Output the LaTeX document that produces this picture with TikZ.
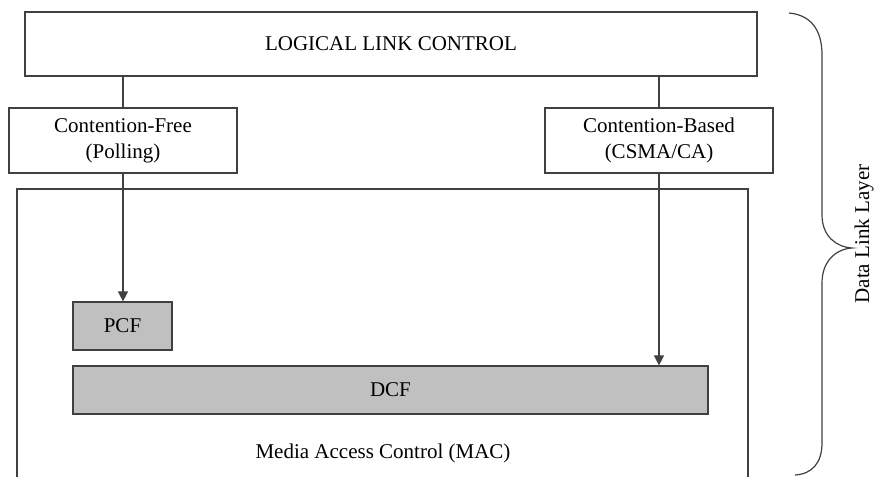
\documentclass[tikz,border=0pt]{standalone}
\usepackage{fontspec}
\setmainfont{Liberation Serif}
\usetikzlibrary{arrows.meta}
\definecolor{edge}{HTML}{404040}
\definecolor{boxfill}{HTML}{C0C0C0}
\tikzset{
  box/.style={draw=edge, line width=1.2pt, rectangle, inner sep=0pt, align=center,
    font=\fontsize{21}{26}\selectfont},
  graybox/.style={box, fill=boxfill},
  conn/.style={draw=edge, line width=1.2pt},
  arr/.style={conn, -{Triangle[length=10pt,width=10pt]}},
  lbl/.style={font=\fontsize{21}{26}\selectfont, inner sep=0pt}
}
\begin{document}
\begin{tikzpicture}[x=1pt,y=-1pt]
\useasboundingbox (0,0) rectangle (874,476);
\node[box, minimum width=732pt, minimum height=64pt] (llc) at (391,44) {LOGICAL LINK CONTROL};
\node[box, minimum width=228pt, minimum height=65pt] (cf) at (123,140.5) {Contention-Free\\(Polling)};
\node[box, minimum width=228pt, minimum height=65pt] (cb) at (659,140.5) {Contention-Based\\(CSMA/CA)};
\node[box, minimum width=731pt, minimum height=292pt] (mac) at (382.5,335) {};
\node[lbl] (maclbl) at (383,453) {Media Access Control (MAC)};
\node[graybox, minimum width=99pt, minimum height=48pt] (pcf) at (122.5,326) {PCF};
\node[graybox, minimum width=635pt, minimum height=48pt] (dcf) at (390.5,390) {DCF};
\draw[conn] (llc.south -| cf.north) -- (cf.north);
\draw[conn] (llc.south -| cb.north) -- (cb.north);
\draw[arr] (cf.south) -- (cf.south |- pcf.north);
\draw[arr] (cb.south) -- (cb.south |- dcf.north);
\draw[draw=edge, line width=1.2pt]
  (789,13) .. controls (811,15) and (822,30) .. (822,55)
  -- (822,215) .. controls (822,236) and (836,247) .. (852,248)
  .. controls (836,249) and (822,261) .. (822,283)
  -- (822,443) .. controls (822,463) and (812,474) .. (795,475);
\node[lbl, rotate=90] (dll) at (864,234) {Data Link Layer};
\end{tikzpicture}
\end{document}
